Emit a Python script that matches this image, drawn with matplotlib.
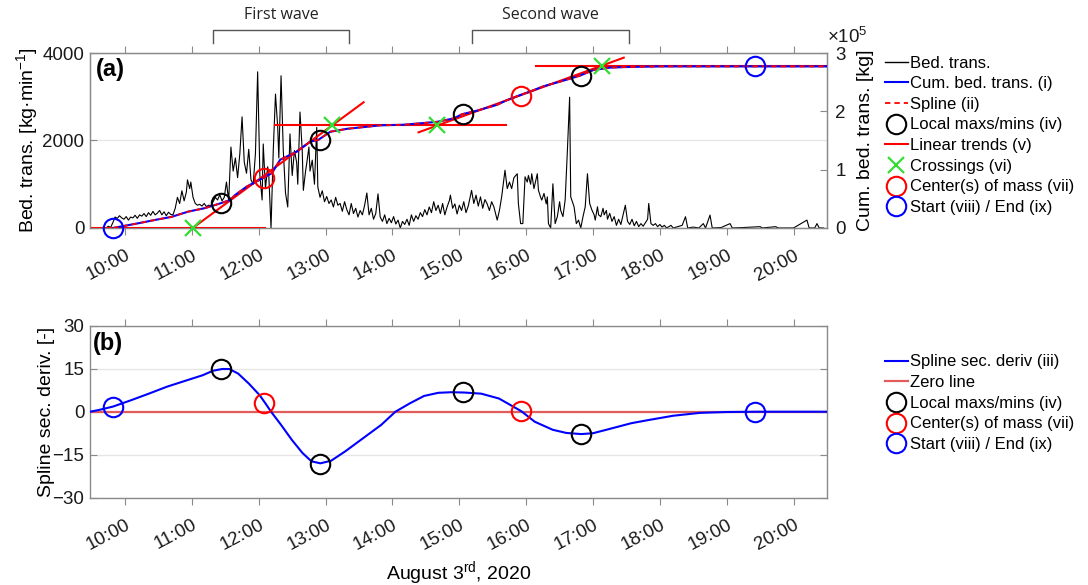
import numpy as np
import matplotlib
matplotlib.use('Agg')
import matplotlib.pyplot as plt
from matplotlib.lines import Line2D
from matplotlib.transforms import ScaledTranslation

plt.rcParams['font.family'] = ['Liberation Sans', 'DejaVu Sans']
plt.rcParams['mathtext.fontset'] = 'custom'
plt.rcParams['mathtext.rm'] = 'Liberation Sans'
plt.rcParams['mathtext.it'] = 'Liberation Sans:italic'
plt.rcParams['mathtext.bf'] = 'Liberation Sans:bold'

# ---------------- data ----------------
# bed-load transport rate [kg/min], time in minutes after 10:00
bed_minutes = [-17, -15, -13, -11, -9, -7, -5, -3, -1, 1, 3, 5, 7, 9, 11, 13, 15, 17, 19, 21,
               23, 25, 27, 29, 31, 33, 35, 37, 39, 41, 43, 45, 47, 49, 51, 53, 55, 56, 58, 59,
               61, 63, 65, 67, 69, 71, 73, 75, 77, 79, 81, 83, 85, 87, 89, 91, 93, 95, 97, 99,
               101, 103, 105, 107, 109, 111, 113, 115, 117, 119, 121, 123, 124, 126, 128, 129, 131, 133, 135, 137,
               138, 140, 142, 144, 146, 148, 150, 152, 154, 155, 157, 159, 160, 162, 163, 165, 166, 168, 170, 172,
               173, 175, 177, 179, 181, 183, 185, 187, 189, 191, 193, 195, 197, 199, 201, 203, 205, 207, 209, 211,
               213, 215, 217, 219, 221, 223, 225, 227, 229, 231, 233, 235, 237, 239, 241, 243, 245, 247, 249, 251,
               253, 255, 257, 259, 261, 263, 265, 267, 269, 271, 273, 275, 277, 279, 281, 283, 285, 287, 289, 291,
               292, 294, 296, 298, 300, 302, 304, 306, 308, 311, 313, 315, 317, 319, 321, 323, 325, 327, 329, 331,
               334, 336, 338, 341, 343, 345, 347, 349, 352, 353, 355, 357, 359, 361, 362, 364, 365, 367, 368, 370,
               371, 373, 374, 376, 378, 379, 380, 382, 384, 386, 388, 390, 391, 393, 395, 397, 399, 400, 402, 403,
               405, 407, 409, 411, 413, 415, 417, 419, 421, 422, 424, 425, 427, 429, 430, 432, 433, 435, 437, 439,
               441, 443, 445, 447, 449, 451, 453, 455, 457, 459, 461, 463, 465, 467, 469, 470, 472, 474, 476, 478,
               480, 482, 484, 486, 490, 492, 496, 500, 503, 505, 510, 515, 519, 521, 525, 527, 535, 543, 545, 555,
               570, 572, 584, 586, 600, 612, 614, 619, 621, 623, 627]
bed_rate = [0, 40, 10, 120, 250, 220, 280, 230, 200, 260, 180, 250, 230, 290, 220, 300, 270, 330, 260, 350,
            290, 380, 300, 340, 400, 300, 370, 280, 360, 310, 300, 450, 700, 560, 850, 620, 820, 1100, 900, 1050,
            700, 560, 520, 540, 500, 560, 490, 520, 510, 600, 700, 640, 760, 620, 700, 1050, 620, 1850, 1300, 1600,
            1150, 1700, 2540, 1500, 1250, 1800, 1100, 1000, 1700, 3570, 1200, 640, 1920, 900, 1400, 1200, 0, 1770, 3060, 2300,
            1600, 3480, 1770, 800, 480, 2150, 1200, 1770, 1500, 1000, 2650, 1770, 860, 1300, 1470, 1850, 1300, 1550, 1000, 2300,
            940, 700, 850, 600, 720, 560, 640, 480, 700, 520, 560, 380, 600, 420, 300, 560, 330, 450, 250, 400,
            300, 520, 800, 300, 450, 200, 330, 780, 250, 150, 300, 100, 220, 120, 260, 90, 180, 0, 150, 80,
            200, 60, 300, 150, 280, 200, 350, 260, 420, 300, 480, 350, 600, 400, 520, 330, 560, 300, 480, 620,
            750, 450, 550, 320, 520, 400, 600, 350, 500, 860, 560, 750, 500, 712, 450, 650, 550, 400, 600, 485,
            180, 400, 712, 1320, 900, 1050, 900, 1150, 1240, 560, 100, 100, 1170, 1050, 1200, 1000, 1240, 900, 1016, 1240,
            864, 700, 637, 790, 550, 712, 100, 0, 1010, 100, 260, 600, 400, 260, 640, 1770, 2990, 712, 560, 485,
            100, 180, 0, 258, 485, 1240, 560, 410, 300, 180, 485, 300, 258, 450, 300, 400, 200, 334, 150, 260,
            60, 200, 80, 300, 520, 150, 80, 200, 50, 150, 30, 100, 40, 120, 200, 560, 100, 60, 100, 30,
            80, 20, 60, 0, 60, 0, 30, 60, 257, 0, 20, 0, 100, 0, 295, 0, 10, 100, 0, 10,
            30, 0, 30, 0, 0, 180, 0, 0, 100, 0, 0]

# cumulative bed-load transport [x1e5 kg], time in hours of day
cum_hours = [9.82, 10.195, 10.445, 10.693, 10.943, 11.193, 11.42, 11.572, 11.64, 11.82, 12.07, 12.196,
             12.32, 12.57, 12.77, 12.89, 13.07, 13.32, 13.57, 13.82, 14.17, 14.67, 14.92, 15.04,
             15.26, 15.56, 15.71, 15.89, 16.06, 16.26, 16.51, 16.80, 17.01, 17.26, 17.51, 18.01, 20.5]
cum_values = [0.0, 0.08, 0.137, 0.19, 0.28, 0.34, 0.42, 0.48, 0.56, 0.71, 0.86, 0.94,
              1.17, 1.31, 1.48, 1.51, 1.65, 1.70, 1.73, 1.76, 1.77, 1.82, 1.88, 1.95,
              2.01, 2.11, 2.19, 2.27, 2.34, 2.43, 2.51, 2.61, 2.71, 2.75, 2.76, 2.77, 2.77]

# linear trends (v): start/end hours and values [x1e5 kg]
trend_h0 = [9.475, 11.013, 12.24, 14.39, 16.15]
trend_h1 = [12.096, 13.568, 15.70, 17.46, 20.5]
trend_v0 = [0.0, 0.0, 1.76, 1.64, 2.77]
trend_v1 = [0.0, 2.155, 1.76, 2.92, 2.77]

cross_hours = [11.013, 13.094, 14.67, 17.14]
cross_values = [0.0, 1.76, 1.76, 2.77]

extrema_hours = [11.44, 12.91, 15.06, 16.82]
extrema_cum = [0.43, 1.51, 1.95, 2.61]
extrema_deriv = [14.9, -18.2, 6.8, -7.8]

com_hours = [12.08, 15.92]
com_cum = [0.86, 2.27]
com_deriv = [2.9, 0.2]

startend_hours = [9.82, 19.43]
startend_cum = [0.0, 2.77]
startend_deriv = [1.7, 0.0]

# spline second derivative (iii)
deriv_hours = [9.476, 9.606, 9.82, 10.088, 10.355, 10.623, 10.889, 11.157, 11.317, 11.451, 11.558,
               11.692, 11.852, 12.012, 12.10, 12.184, 12.334, 12.494, 12.654, 12.788, 12.921, 13.082,
               13.295, 13.563, 13.831, 14.044, 14.258, 14.472, 14.686, 14.88, 15.07, 15.328, 15.594,
               15.926, 16.129, 16.397, 16.6, 16.825, 17.0, 17.199, 17.574, 17.83, 18.2, 18.6, 19.0,
               19.45, 20.5]
deriv_values = [0.0, 0.6, 1.8, 4.0, 6.3, 8.7, 10.7, 12.7, 14.3, 14.9, 14.9,
                13.3, 9.8, 5.8, 2.9, 0.0, -4.6, -9.8, -14.4, -17.3, -18.0, -17.1,
                -13.8, -9.2, -4.6, 0.0, 2.9, 5.5, 6.6, 6.8, 6.7, 6.3, 4.6,
                0.2, -3.5, -6.3, -7.4, -7.8, -7.5, -6.3, -4.0, -2.9, -1.4, -0.4, -0.1,
                0.0, 0.0]

wave_names = ['First wave', 'Second wave']
wave_start = [11.313, 15.195]
wave_end = [13.349, 17.54]

tick_hours = [10, 11, 12, 13, 14, 15, 16, 17, 18, 19, 20]
tick_labels = ['10:00', '11:00', '12:00', '13:00', '14:00', '15:00', '16:00',
               '17:00', '18:00', '19:00', '20:00']

# ---------------- style ----------------
SPINE = '#8a8a8a'
BLUE = '#0000ff'
RED = '#ff0000'
GREEN = '#33dd33'
ZERO = '#e25c5c'
MS = 14
MEW = 1.5
TICKFS = 13.5
LABFS = 14

fig = plt.figure(figsize=(10.88, 5.85), dpi=100)
ax = fig.add_axes([0.0827, 0.6103, 0.6774, 0.2991])
axb = fig.add_axes([0.0827, 0.1492, 0.6774, 0.294])


def style_axes(a):
    a.set_xlim(9.475, 20.5)
    a.set_xticks(tick_hours)
    a.set_xticklabels(tick_labels, rotation=28, ha='right', va='center',
                      rotation_mode='anchor', fontsize=TICKFS)
    a.tick_params(axis='x', direction='out', length=5, width=0.8, color=SPINE,
                  top=True, pad=14, labelcolor='#1a1a1a')
    a.tick_params(axis='y', direction='in', length=5, width=0.8, color=SPINE,
                  right=True, labelsize=TICKFS, pad=4, labelcolor='#1a1a1a')
    for s in a.spines.values():
        s.set_color(SPINE)
        s.set_linewidth(1.0)
    for lab in a.get_xticklabels():
        lab.set_transform(lab.get_transform() + ScaledTranslation(4 / 100, 0, fig.dpi_scale_trans))


# ---------------- panel (a) ----------------
bed_hours = 10 + np.array(bed_minutes) / 60.0
ax.plot(bed_hours, bed_rate, color='black', lw=0.8, zorder=2)
ax.set_ylim(0, 4000)
ax.set_yticks([0, 2000, 4000])
ax.yaxis.grid(True, color='#e6e6e6', lw=1.0)
ax.set_axisbelow(True)
style_axes(ax)
ax.tick_params(axis='y', right=False)
ax.set_ylabel('Bed. trans. [kg·min$^{-1}$]', fontsize=LABFS)
ax.yaxis.set_label_coords(-0.068, 0.5)

ax2 = ax.twinx()
ax2.set_ylim(0, 3)
ax2.set_yticks([0, 1, 2, 3])
ax2.tick_params(axis='y', direction='in', length=5, width=0.8, color=SPINE,
                labelsize=TICKFS, pad=6, labelcolor='#1a1a1a')
for s in ax2.spines.values():
    s.set_color(SPINE)
ax2.set_ylabel('Cum. bed. trans. [kg]', fontsize=LABFS)
ax2.yaxis.set_label_coords(1.041, 0.5)
ax2.text(1.0, 1.035, '×10$^{5}$', transform=ax2.transAxes, fontsize=13.5,
         ha='left', va='bottom', color='#1a1a1a')

for h0, h1, v0, v1 in zip(trend_h0, trend_h1, trend_v0, trend_v1):
    ax2.plot([h0, h1], [v0, v1], color=RED, lw=1.5, zorder=2)
ax2.plot(cum_hours, cum_values, color=BLUE, lw=1.5, zorder=3)
ax2.plot(cum_hours, cum_values, color=RED, lw=1.3, dashes=(3, 2.2), zorder=4)
ax2.plot(cross_hours, cross_values, ls='none', marker='x', ms=11, mew=1.6,
         color=GREEN, zorder=5, clip_on=False)
ax2.plot(extrema_hours, extrema_cum, ls='none', marker='o', ms=MS, mfc='none',
         mec='black', mew=MEW, zorder=6)
ax2.plot(com_hours, com_cum, ls='none', marker='o', ms=MS, mfc='none',
         mec=RED, mew=MEW, zorder=6)
ax2.plot(startend_hours, startend_cum, ls='none', marker='o', ms=MS, mfc='none',
         mec=BLUE, mew=MEW, zorder=6, clip_on=False)
ax2.set_xlim(9.475, 20.5)

ax2.text(0.008, 0.905, '(a)', transform=ax2.transAxes, fontsize=17,
         fontweight='bold', ha='left', va='center')

# wave brackets
tr = ax.get_xaxis_transform()
for name, w0, w1 in zip(wave_names, wave_start, wave_end):
    ax.add_line(Line2D([w0, w0, w1, w1], [1.057, 1.131, 1.131, 1.057], transform=tr,
                       color='#555555', lw=1.0, clip_on=False))
    ax.text((w0 + w1) / 2, 1.215, name, transform=tr, ha='center', va='center',
            fontsize=11.5, family=['Open Sans', 'DejaVu Sans'], color='#222222')

h_a = [
    Line2D([], [], color='black', lw=1.0),
    Line2D([], [], color=BLUE, lw=1.5),
    Line2D([], [], color=RED, lw=1.3, dashes=(3, 2.2)),
    Line2D([], [], ls='none', marker='o', ms=MS, mfc='none', mec='black', mew=MEW),
    Line2D([], [], color=RED, lw=1.5),
    Line2D([], [], ls='none', marker='x', ms=11, mew=1.6, color=GREEN),
    Line2D([], [], ls='none', marker='o', ms=MS, mfc='none', mec=RED, mew=MEW),
    Line2D([], [], ls='none', marker='o', ms=MS, mfc='none', mec=BLUE, mew=MEW),
]
l_a = ['Bed. trans.', 'Cum. bed. trans. (i)', 'Spline (ii)', 'Local maxs/mins (iv)',
       'Linear trends (v)', 'Crossings (vi)', 'Center(s) of mass (vii)',
       'Start (viii) / End (ix)']
fig.legend(h_a, l_a, loc='upper left', bbox_to_anchor=(885 / 1088, 1 - 55.5 / 585),
           frameon=False, fontsize=12, handlelength=1.35, handletextpad=0.15,
           labelspacing=0.34, borderpad=0, borderaxespad=0)

# ---------------- panel (b) ----------------
axb.axhline(0, color=ZERO, lw=1.6, zorder=2)
axb.plot(deriv_hours, deriv_values, color=BLUE, lw=1.5, zorder=3)
axb.plot(extrema_hours, extrema_deriv, ls='none', marker='o', ms=MS, mfc='none',
         mec='black', mew=MEW, zorder=6)
axb.plot(com_hours, com_deriv, ls='none', marker='o', ms=MS, mfc='none',
         mec=RED, mew=MEW, zorder=6)
axb.plot(startend_hours, startend_deriv, ls='none', marker='o', ms=MS, mfc='none',
         mec=BLUE, mew=MEW, zorder=6)
axb.set_ylim(-30, 30)
axb.set_yticks([-30, -15, 0, 15, 30])
axb.yaxis.grid(True, color='#e6e6e6', lw=1.0)
axb.set_axisbelow(True)
style_axes(axb)
axb.set_ylabel('Spline sec. deriv. [-]', fontsize=LABFS)
axb.yaxis.set_label_coords(-0.048, 0.5)
axb.set_xlabel('August 3$^{\\rm rd}$, 2020', fontsize=LABFS)
axb.xaxis.set_label_coords(0.5, -0.355)
axb.text(0.004, 0.895, '(b)', transform=axb.transAxes, fontsize=17,
         fontweight='bold', ha='left', va='center')

h_b = [
    Line2D([], [], color=BLUE, lw=1.5),
    Line2D([], [], color=ZERO, lw=1.6),
    Line2D([], [], ls='none', marker='o', ms=MS, mfc='none', mec='black', mew=MEW),
    Line2D([], [], ls='none', marker='o', ms=MS, mfc='none', mec=RED, mew=MEW),
    Line2D([], [], ls='none', marker='o', ms=MS, mfc='none', mec=BLUE, mew=MEW),
]
l_b = ['Spline sec. deriv (iii)', 'Zero line', 'Local maxs/mins (iv)',
       'Center(s) of mass (vii)', 'Start (viii) / End (ix)']
fig.legend(h_b, l_b, loc='upper left', bbox_to_anchor=(885 / 1088, 1 - 354.5 / 585),
           frameon=False, fontsize=12, handlelength=1.35, handletextpad=0.15,
           labelspacing=0.34, borderpad=0, borderaxespad=0)

fig.savefig('out.png', dpi=100)
